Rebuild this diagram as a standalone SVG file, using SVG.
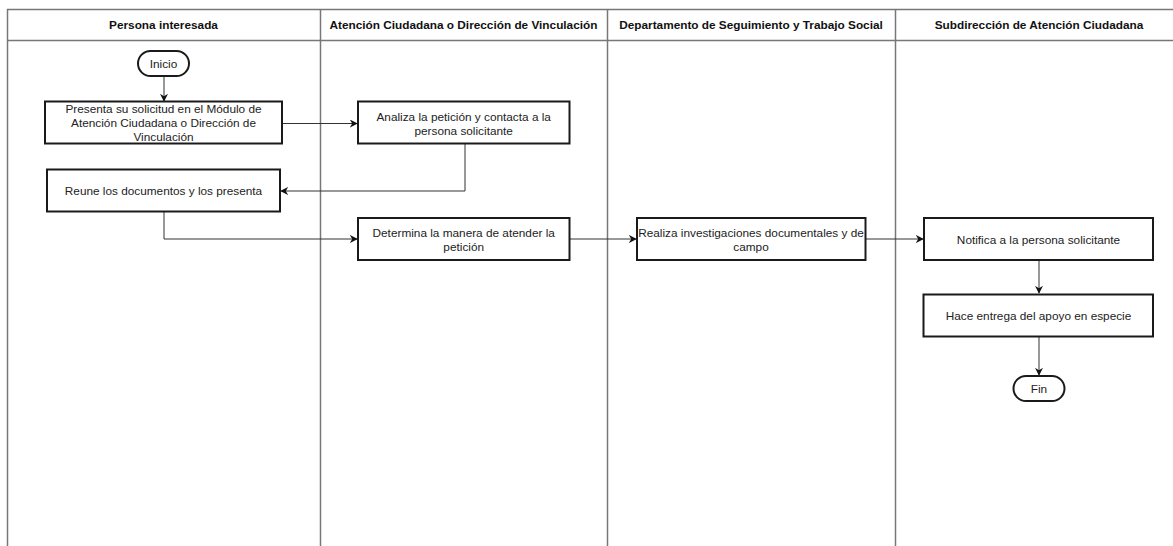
<svg xmlns="http://www.w3.org/2000/svg" width="1173" height="546" viewBox="0 0 1173 546">
<defs>
<style>
.lane{fill:none;stroke:#777;stroke-width:1.5}
.box{fill:#fff;stroke:#1a1a1a;stroke-width:2}
.t{font-family:"Liberation Sans",Arial,sans-serif;font-size:11.8px;fill:#222;text-anchor:middle;dominant-baseline:central}
.h{font-family:"Liberation Sans",Arial,sans-serif;font-size:11.8px;font-weight:bold;fill:#111;text-anchor:middle;dominant-baseline:central}
.c{fill:none;stroke:#333;stroke-width:1;marker-end:url(#ah)}
</style>
<marker id="ah" viewBox="0 0 10 10" refX="9" refY="5" markerWidth="8" markerHeight="8" markerUnits="userSpaceOnUse" orient="auto">
<path d="M0,0 L10,5 L0,10 L3,5 Z" fill="#111"/>
</marker>
</defs>
<rect width="1173" height="546" fill="#fff"/>
<g id="lanes">
<line class="lane" x1="7" y1="9.5" x2="1173" y2="9.5"/>
<line class="lane" x1="7" y1="40.5" x2="1173" y2="40.5"/>
<line class="lane" x1="7.5" y1="9" x2="7.5" y2="546"/>
<line class="lane" x1="320.5" y1="9" x2="320.5" y2="546"/>
<line class="lane" x1="607.5" y1="9" x2="607.5" y2="546"/>
<line class="lane" x1="895.5" y1="9" x2="895.5" y2="546"/>
<text class="h" x="163.5" y="25">Persona interesada</text>
<text class="h" x="463.5" y="25">Atención Ciudadana o Dirección de Vinculación</text>
<text class="h" x="751" y="25">Departamento de Seguimiento y Trabajo Social</text>
<text class="h" x="1039" y="25">Subdirección de Atención Ciudadana</text>
</g>
<g id="connectors">
<path class="c" d="M164,76 L164,101"/>
<path class="c" d="M282,123.5 L357,123.5"/>
<path class="c" d="M465,144 L465,191 L281,191"/>
<path class="c" d="M164,212 L164,239 L357,239"/>
<path class="c" d="M569.5,239 L636,239"/>
<path class="c" d="M865.5,239 L923,239"/>
<path class="c" d="M1039,260 L1039,293"/>
<path class="c" d="M1039,337 L1039,375"/>
</g>
<g id="inicio">
<rect class="box" x="138" y="51" width="51" height="25" rx="12.5"/>
<text class="t" x="163.5" y="63.5">Inicio</text>
</g>
<g id="presenta">
<rect class="box" x="45" y="101.5" width="237" height="42"/>
<text class="t" x="163.5" y="109">Presenta su solicitud en el Módulo de</text>
<text class="t" x="163.5" y="123">Atención Ciudadana o Dirección de</text>
<text class="t" x="163.5" y="137">Vinculación</text>
</g>
<g id="analiza">
<rect class="box" x="358" y="101.5" width="211.5" height="42"/>
<text class="t" x="463.7" y="116.5">Analiza la petición y contacta a la</text>
<text class="t" x="463.7" y="130.5">persona solicitante</text>
</g>
<g id="reune">
<rect class="box" x="47" y="169.5" width="233" height="42"/>
<text class="t" x="163.5" y="191">Reune los documentos y los presenta</text>
</g>
<g id="determina">
<rect class="box" x="358" y="218" width="211.5" height="42"/>
<text class="t" x="463.7" y="233">Determina la manera de atender la</text>
<text class="t" x="463.7" y="247">petición</text>
</g>
<g id="realiza">
<rect class="box" x="637" y="218" width="228.5" height="42"/>
<text class="t" x="751" y="233">Realiza investigaciones documentales y de</text>
<text class="t" x="751" y="247">campo</text>
</g>
<g id="notifica">
<rect class="box" x="924" y="218" width="229" height="42"/>
<text class="t" x="1038.5" y="240">Notifica a la persona solicitante</text>
</g>
<g id="hace">
<rect class="box" x="923.5" y="294.5" width="229.5" height="42"/>
<text class="t" x="1038.5" y="316">Hace entrega del apoyo en especie</text>
</g>
<g id="fin">
<rect class="box" x="1013.5" y="376" width="51" height="25" rx="12.5"/>
<text class="t" x="1039" y="388.5">Fin</text>
</g>
</svg>
